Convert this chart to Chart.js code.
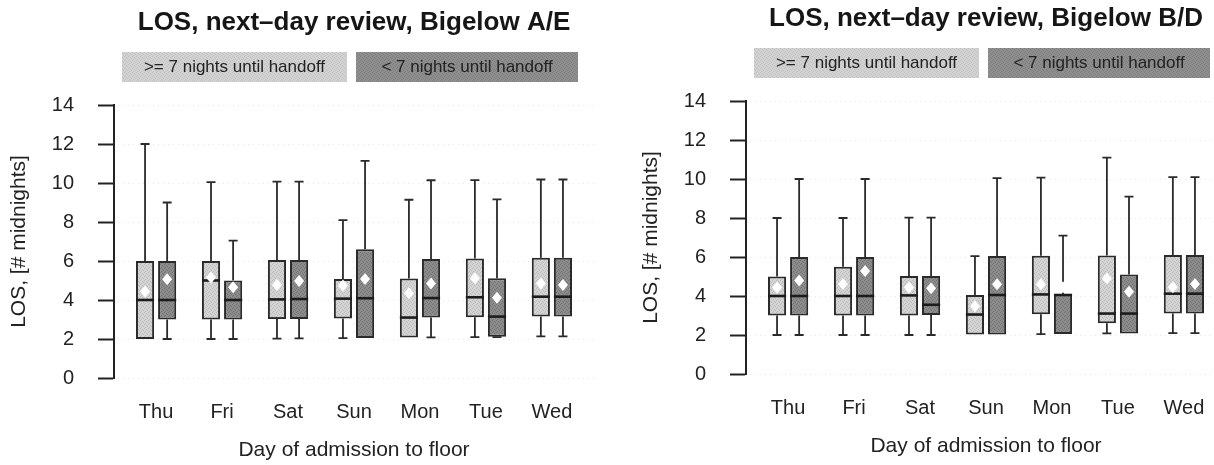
<!DOCTYPE html>
<html lang="en">
<head>
    <meta charset="UTF-8">
    <title>LOS, next-day review</title>
    <script src="https://cdn.jsdelivr.net/npm/chart.js"></script>
    <style>
        body {
            margin: 0;
            width: 1214px;
            height: 465px;
            overflow: hidden;
            position: relative;
            background: #fff;
        }
        .panel {
            position: absolute;
            width: 632px;
            height: 465px;
        }
        #panelAE { left: 0; top: 0; }
        #panelBD { left: 632px; top: -4px; }
    </style>
</head>
<body>
    <div class="panel" id="panelAE"><canvas id="chartAE"></canvas></div>
    <div class="panel" id="panelBD"><canvas id="chartBD"></canvas></div>

    <script>
        const days = ['Thu', 'Fri', 'Sat', 'Sun', 'Mon', 'Tue', 'Wed'];
        const groupLabels = ['>= 7 nights until handoff', '< 7 nights until handoff'];
        const yTicks = [0, 2, 4, 6, 8, 10, 12, 14];

        // one row per day: [min, q1, median, q3, max, mean]
        const aeLong = [
            [2, 2, 4, 6, 12, 4.43],
            [2, 3, 5, 6, 10.05, 5.15],
            [2.02, 3.02, 4.03, 6.05, 10.07, 4.77],
            [2.05, 3.05, 4.07, 5.08, 8.1, 4.74],
            [2.08, 2.08, 3.1, 5.1, 9.14, 4.34],
            [2.1, 3.12, 4.14, 6.13, 10.15, 5.11],
            [2.13, 3.15, 4.17, 6.17, 10.18, 4.85]
        ];
        const aeShort = [
            [2, 3, 4, 6, 9, 5.06],
            [2, 3, 4, 5, 7.05, 4.65],
            [2.03, 3.03, 4.05, 6.05, 10.07, 4.97],
            [2.05, 2.05, 4.09, 6.6, 11.13, 5.08],
            [2.08, 3.1, 4.1, 6.1, 10.14, 4.85],
            [2.1, 2.12, 3.15, 5.12, 9.16, 4.12],
            [2.13, 3.15, 4.17, 6.17, 10.18, 4.77]
        ];
        const bdLong = [
            [2, 3, 4, 5, 8, 4.44],
            [2, 3, 4, 5.5, 8, 4.62],
            [2, 3, 4.03, 5.03, 8.02, 4.44],
            [2.03, 2.03, 3.05, 4.05, 6.05, 3.47],
            [2.05, 3.07, 4.08, 6.07, 10.07, 4.6],
            [2.08, 2.6, 3.1, 6.08, 11.1, 4.9],
            [2.1, 3.1, 4.12, 6.1, 10.1, 4.45]
        ];
        const bdShort = [
            [2, 3, 4, 6, 10, 4.8],
            [2, 3, 4, 6, 10, 5.28],
            [2, 3.02, 3.55, 5.03, 8.02, 4.4],
            [2.03, 2.03, 4.05, 6.05, 10.05, 4.6],
            [2.05, 2.05, 4.05, 4.1, 7.1, 4.45],
            [2.08, 2.08, 3.1, 5.1, 9.1, 4.22],
            [2.1, 3.1, 4.12, 6.1, 10.1, 4.62]
        ];

        const FONT = '"Liberation Sans", Arial, Helvetica, sans-serif';
        const INK = '#222';

        // fine grey grain for the box fills
        function stipple(base, dot) {
            const c = document.createElement('canvas');
            c.width = 4;
            c.height = 4;
            const g = c.getContext('2d');
            g.fillStyle = base;
            g.fillRect(0, 0, 4, 4);
            g.fillStyle = dot;
            [[0, 0], [2, 1], [1, 3], [3, 2]].forEach(([x, y]) => g.fillRect(x, y, 1, 1));
            return g.createPattern(c, 'repeat');
        }
        const lightFill = stipple('#d4d4d4', '#bababa');
        const darkFill = stipple('#8c8c8c', '#727272');

        // whiskers and faint dotted guides go under the boxes,
        // medians and white mean diamonds on top
        const boxExtras = {
            id: 'boxExtras',
            beforeDatasetsDraw(chart) {
                const { ctx, chartArea, scales: { y } } = chart;
                ctx.save();
                ctx.strokeStyle = 'rgba(0,0,0,0.09)';
                ctx.lineWidth = 1;
                ctx.setLineDash([1, 4]);
                yTicks.forEach(v => {
                    const py = Math.round(y.getPixelForValue(v)) + 0.5;
                    ctx.beginPath();
                    ctx.moveTo(chartArea.left + 4, py);
                    ctx.lineTo(chartArea.right, py);
                    ctx.stroke();
                });
                ctx.setLineDash([]);
                ctx.strokeStyle = '#2a2a2a';
                ctx.lineWidth = 1.8;
                chart.data.datasets.forEach((ds, i) => {
                    chart.getDatasetMeta(i).data.forEach((bar, j) => {
                        const [lo, q1, , q3, hi] = ds.stats[j];
                        const x = bar.x;
                        [[q1, lo], [q3, hi]].forEach(([from, to]) => {
                            if (Math.abs(to - from) < 0.01) return;
                            const p1 = y.getPixelForValue(from);
                            const p2 = y.getPixelForValue(to);
                            ctx.beginPath();
                            ctx.moveTo(x, p1);
                            ctx.lineTo(x, p2);
                            ctx.moveTo(x - 4.5, p2);
                            ctx.lineTo(x + 4.5, p2);
                            ctx.stroke();
                        });
                    });
                });
                ctx.restore();
            },
            afterDatasetsDraw(chart) {
                const { ctx, scales: { y } } = chart;
                ctx.save();
                chart.data.datasets.forEach((ds, i) => {
                    chart.getDatasetMeta(i).data.forEach((bar, j) => {
                        const [, , med, , , mean] = ds.stats[j];
                        const half = bar.width / 2;
                        const pm = y.getPixelForValue(med);
                        ctx.strokeStyle = '#1c1c1c';
                        ctx.lineWidth = 2.6;
                        ctx.beginPath();
                        ctx.moveTo(bar.x - half, pm);
                        ctx.lineTo(bar.x + half, pm);
                        ctx.stroke();

                        const pd = y.getPixelForValue(mean);
                        ctx.fillStyle = '#ffffff';
                        ctx.beginPath();
                        ctx.moveTo(bar.x, pd - 6);
                        ctx.lineTo(bar.x + 5, pd);
                        ctx.lineTo(bar.x, pd + 6);
                        ctx.lineTo(bar.x - 5, pd);
                        ctx.closePath();
                        ctx.fill();
                    });
                });
                ctx.restore();
            }
        };

        // bold title plus the two shaded legend tiles above the plot
        const panelHeader = {
            id: 'panelHeader',
            afterDraw(chart, args, opts) {
                const { ctx, chartArea } = chart;
                const cx = (chartArea.left + chartArea.right) / 2;
                ctx.save();
                ctx.fillStyle = '#161616';
                ctx.font = 'bold 26px ' + FONT;
                ctx.textAlign = 'center';
                ctx.textBaseline = 'middle';
                ctx.fillText(opts.text, cx, 23);

                const tiles = [
                    { x: cx - 232, w: 225, fill: stipple('#d2d2d2', '#c0c0c0'), text: groupLabels[0] },
                    { x: cx + 2, w: 222, fill: stipple('#8e8e8e', '#7c7c7c'), text: groupLabels[1] }
                ];
                ctx.font = '17px ' + FONT;
                tiles.forEach(t => {
                    ctx.fillStyle = t.fill;
                    ctx.fillRect(t.x, 52, t.w, 30);
                    ctx.fillStyle = INK;
                    ctx.fillText(t.text, t.x + t.w / 2, 67.5);
                });
                ctx.restore();
            }
        };

        function makeChart(canvasId, title, longStats, shortStats) {
            const toBoxes = stats => stats.map((s, i) => ({ x: i + 1, y: [s[1], s[3]] }));
            const boxStyle = {
                borderColor: '#2a2a2a',
                borderWidth: 2,
                borderSkipped: false,
                categoryPercentage: 0.67,
                barPercentage: 0.82
            };
            return new Chart(document.getElementById(canvasId), {
                type: 'bar',
                data: {
                    datasets: [
                        { label: groupLabels[0], data: toBoxes(longStats), stats: longStats, backgroundColor: lightFill, ...boxStyle },
                        { label: groupLabels[1], data: toBoxes(shortStats), stats: shortStats, backgroundColor: darkFill, ...boxStyle }
                    ]
                },
                options: {
                    responsive: true,
                    maintainAspectRatio: false,
                    animation: false,
                    layout: { padding: { top: 105, right: 38, left: 0, bottom: 0 } },
                    plugins: {
                        legend: { display: false },
                        tooltip: { enabled: false },
                        panelHeader: { text: title }
                    },
                    scales: {
                        x: {
                            type: 'linear',
                            offset: false,
                            min: 0.362,
                            max: 7.638,
                            afterBuildTicks: s => { s.ticks = days.map((d, i) => ({ value: i + 1 })); },
                            afterFit: s => { s.height = 87; },
                            grid: { display: false, drawTicks: false },
                            border: { display: false },
                            ticks: {
                                callback: v => days[v - 1],
                                autoSkip: false,
                                maxRotation: 0,
                                padding: 22,
                                color: INK,
                                font: { family: FONT, size: 20 }
                            },
                            title: {
                                display: true,
                                text: 'Day of admission to floor',
                                color: INK,
                                font: { family: FONT, size: 21 },
                                padding: { top: 0, bottom: 2 }
                            }
                        },
                        y: {
                            min: 0,
                            max: 14,
                            afterBuildTicks: s => { s.ticks = yTicks.map(v => ({ value: v })); },
                            afterFit: s => { s.width = 114; },
                            grid: { drawOnChartArea: false, tickLength: 16, tickWidth: 2, tickColor: INK },
                            border: { color: INK, width: 2 },
                            ticks: {
                                padding: 24,
                                color: INK,
                                font: { family: FONT, size: 20 }
                            },
                            title: {
                                display: true,
                                text: 'LOS, [# midnights]',
                                color: INK,
                                font: { family: FONT, size: 21 },
                                padding: { top: 7, bottom: 0 }
                            }
                        }
                    }
                },
                plugins: [boxExtras, panelHeader]
            });
        }

        makeChart('chartAE', 'LOS, next\u2013day review, Bigelow A/E', aeLong, aeShort);
        makeChart('chartBD', 'LOS, next\u2013day review, Bigelow B/D', bdLong, bdShort);
    </script>
</body>
</html>
